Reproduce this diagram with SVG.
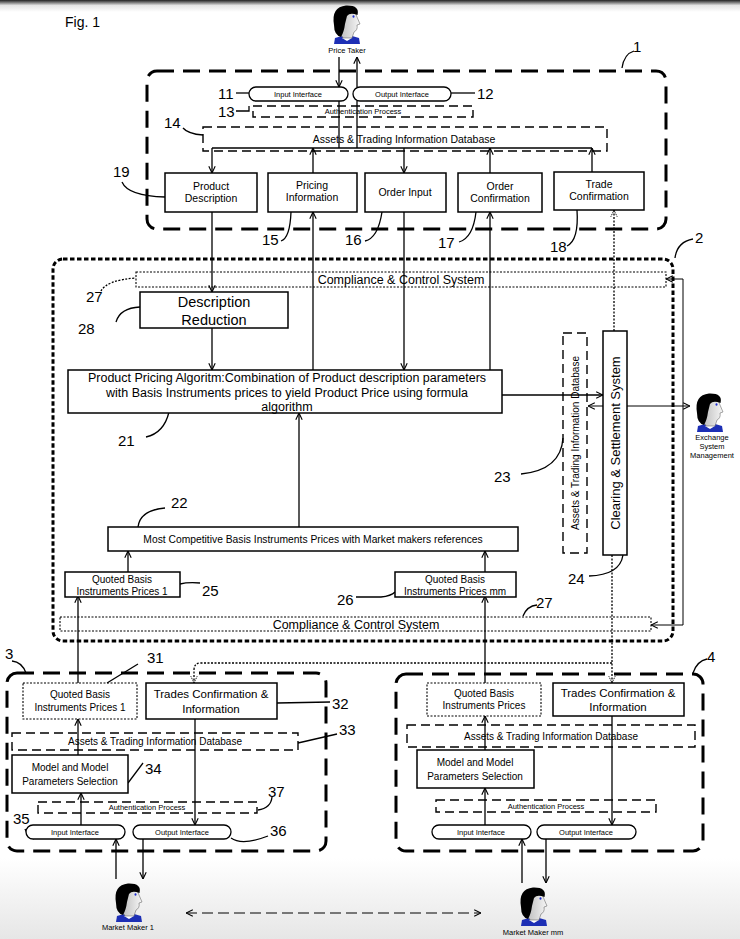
<svg xmlns="http://www.w3.org/2000/svg" width="740" height="939" viewBox="0 0 740 939">
<defs>
<linearGradient id="gt" x1="0" y1="0" x2="0" y2="1"><stop offset="0" stop-color="#222"/><stop offset="0.2" stop-color="#777"/><stop offset="0.45" stop-color="#e4e4e4"/><stop offset="1" stop-color="#fff"/></linearGradient>
<linearGradient id="gb" x1="0" y1="0" x2="0" y2="1"><stop offset="0" stop-color="#fff"/><stop offset="1" stop-color="#e6e6e6"/></linearGradient>
<linearGradient id="skin" x1="0" y1="0" x2="1" y2="0"><stop offset="0" stop-color="#bdbdbd"/><stop offset="1" stop-color="#f6f6f6"/></linearGradient>
<marker id="a" viewBox="0 0 10 10" refX="9.5" refY="5" markerWidth="8" markerHeight="8" orient="auto-start-reverse" markerUnits="userSpaceOnUse"><path d="M1,1 L9.5,5 L1,9" fill="none" stroke="#000" stroke-width="1.4"/></marker>
<marker id="ad" viewBox="0 0 10 10" refX="9.5" refY="5" markerWidth="8" markerHeight="8" orient="auto-start-reverse" markerUnits="userSpaceOnUse"><path d="M1,1 L9.5,5 L1,9" fill="none" stroke="#000" stroke-width="1.1" stroke-dasharray="1.5 1"/></marker>
<symbol id="person" viewBox="0 0 34 40">
<path d="M5,34 Q17,29 29,34 L30,40 L4,40 Z" fill="#1d2fb5"/>
<path d="M12,34 L17,37 L22,34 Z" fill="#fff"/>
<path d="M12,7 Q25,3 27,13 L30,20 L27,21 Q28,26 24,28 L22,34 L13,34 Q9,29 10,18 Z" fill="url(#skin)" stroke="#555" stroke-width="0.5"/>
<path d="M4,21 Q1,3 16,1.5 Q30,1 27.5,11 Q20,8 17,12 L15,20 Q14,28 11,33 Q4,31 4,21 Z" fill="#000"/>
<ellipse cx="23.5" cy="12.5" rx="1" ry="1.3" fill="#2030d0"/>
</symbol>
<style>
text{font-family:"Liberation Sans",Arial,sans-serif;fill:#000}
.box{fill:#fff;stroke:#000;stroke-width:1.5}
.dash{fill:none;stroke:#000;stroke-width:1.4;stroke-dasharray:9 5}
.dot{fill:none;stroke:#000;stroke-width:1.1;stroke-dasharray:2 1.5}
.big{fill:none;stroke:#000;stroke-width:3;stroke-dasharray:17 9}
.bigdot{fill:none;stroke:#000;stroke-width:3;stroke-dasharray:4.5 2.5}
.pill{fill:#fff;stroke:#000;stroke-width:1.3}
.ln{fill:none;stroke:#000;stroke-width:1.3}
.thin{fill:none;stroke:#000;stroke-width:1}
.lnd{fill:none;stroke:#000;stroke-width:1.3;stroke-dasharray:2 1.5}
.num{font-size:15px}
.t{font-size:10.5px;text-anchor:middle}
.s{font-size:7.5px;text-anchor:middle}
.m{font-size:10px;text-anchor:middle}
.l{font-size:12.5px;text-anchor:middle}
.tc{font-size:11.5px;text-anchor:middle}
</style>
</defs>
<rect x="0" y="0" width="740" height="939" fill="#fff"/>
<rect x="0" y="0" width="740" height="12" fill="url(#gt)"/>
<rect x="0" y="858" width="740" height="81" fill="url(#gb)"/>
<text x="65" y="27" font-size="14">Fig. 1</text>

<g id="containers">
<rect x="147" y="71" width="519" height="158" rx="10" class="big"/>
<rect x="53" y="259" width="620" height="382" rx="10" class="bigdot"/>
<rect x="7" y="673" width="319" height="178" rx="10" class="big"/>
<rect x="396" y="674" width="307" height="177" rx="10" class="big"/>
</g>

<g id="price-taker"><use href="#person" x="330" y="4" width="34" height="40"/><text x="347" y="53" class="s">Price Taker</text></g>
<g id="exchange-mgmt"><use href="#person" x="693" y="392" width="34" height="40"/><text x="712" y="440" class="s">Exchange</text><text x="712" y="449" class="s">System</text><text x="712" y="458" class="s">Management</text></g>
<g id="market-maker-1"><use href="#person" x="112" y="882" width="34" height="40"/><text x="128" y="930" class="s">Market Maker 1</text></g>
<g id="market-maker-mm"><use href="#person" x="517" y="886" width="34" height="40"/><text x="533" y="935" class="s">Market Maker mm</text></g>

<g id="connectors">
<line x1="339" y1="57" x2="339" y2="87" class="ln" marker-end="url(#a)"/>
<line x1="357" y1="87" x2="357" y2="57" class="ln" marker-end="url(#a)"/>
<line x1="339" y1="101" x2="339" y2="148" class="ln"/>
<line x1="357" y1="148" x2="357" y2="101" class="ln"/>
<line x1="212" y1="148" x2="592" y2="148" class="ln"/>
<line x1="212" y1="148" x2="212" y2="173" class="ln" marker-end="url(#a)"/>
<line x1="313" y1="173" x2="313" y2="148" class="ln" marker-end="url(#a)"/>
<line x1="404" y1="148" x2="404" y2="173" class="ln" marker-end="url(#a)"/>
<line x1="490" y1="173" x2="490" y2="148" class="ln" marker-end="url(#a)"/>
<line x1="592" y1="172" x2="592" y2="148" class="ln" marker-end="url(#a)"/>
<line x1="212" y1="212" x2="212" y2="292" class="ln" marker-end="url(#a)"/>
<line x1="313" y1="370" x2="313" y2="212" class="ln" marker-end="url(#a)"/>
<line x1="404" y1="212" x2="404" y2="370" class="ln" marker-end="url(#a)"/>
<line x1="490" y1="370" x2="490" y2="212" class="ln" marker-end="url(#a)"/>
<line x1="614" y1="331" x2="614" y2="210" class="lnd" marker-end="url(#ad)"/>
<line x1="212" y1="328" x2="212" y2="370" class="ln" marker-end="url(#a)"/>
<line x1="502" y1="395" x2="603" y2="395" class="ln" marker-end="url(#a)"/>
<line x1="588" y1="406" x2="690" y2="406" class="thin" marker-start="url(#a)" marker-end="url(#a)"/>
<path d="M666,279 H683 V625 H651" class="thin" marker-start="url(#a)" marker-end="url(#a)"/>
<line x1="299" y1="527" x2="299" y2="413" class="ln" marker-end="url(#a)"/>
<line x1="128" y1="572" x2="128" y2="551" class="ln" marker-end="url(#a)"/>
<line x1="485" y1="572" x2="485" y2="551" class="ln" marker-end="url(#a)"/>
<line x1="78" y1="683" x2="78" y2="596" class="ln" marker-end="url(#a)"/>
<line x1="485" y1="683" x2="485" y2="596" class="ln" marker-end="url(#a)"/>
<line x1="612" y1="555" x2="612" y2="683" class="lnd" marker-end="url(#ad)"/>
<path d="M612,663 H201 Q194,663 194,670 V683" class="lnd" marker-end="url(#ad)"/>
<line x1="78" y1="755" x2="78" y2="719" class="ln" marker-end="url(#a)"/>
<line x1="81" y1="825" x2="81" y2="793" class="ln" marker-end="url(#a)"/>
<line x1="195" y1="719" x2="195" y2="825" class="ln" marker-end="url(#a)"/>
<line x1="116" y1="879" x2="116" y2="839" class="ln" marker-end="url(#a)"/>
<line x1="143" y1="839" x2="143" y2="879" class="ln" marker-end="url(#a)"/>
<line x1="485" y1="750" x2="485" y2="716" class="ln" marker-end="url(#a)"/>
<line x1="485" y1="825" x2="485" y2="788" class="ln" marker-end="url(#a)"/>
<line x1="612" y1="716" x2="612" y2="825" class="ln" marker-end="url(#a)"/>
<line x1="522" y1="883" x2="522" y2="839" class="ln" marker-end="url(#a)"/>
<line x1="546" y1="839" x2="546" y2="883" class="ln" marker-end="url(#a)"/>
<line x1="186" y1="913" x2="481" y2="913" class="thin" stroke-dasharray="11 5" marker-start="url(#a)" marker-end="url(#a)"/>
</g>

<g id="leaders">
<path d="M622,68 Q624,54 634,51" class="ln"/>
<line x1="236" y1="93" x2="249" y2="93" class="ln"/>
<line x1="451" y1="93" x2="475" y2="93" class="ln"/>
<path d="M236,111 H249 V106" class="ln"/>
<path d="M183,128 Q188,134 203,135" class="ln"/>
<path d="M122,182 Q128,196 165,197" class="ln"/>
<path d="M281,241 Q290,238 291,212" class="ln"/>
<path d="M365,241 Q378,238 382,212" class="ln"/>
<path d="M459,242 Q473,238 476,212" class="ln"/>
<path d="M567,246 Q579,240 577,210" class="ln"/>
<path d="M675,258 Q677,242 693,239" class="ln"/>
<path d="M101,291 Q107,280 136,278" class="lnd"/>
<path d="M116,322 Q120,308 140,307" class="ln"/>
<path d="M146,437 Q164,433 169,412" class="ln"/>
<path d="M521,474 Q561,470 563,438" class="ln"/>
<path d="M165,508 Q140,510 138,527" class="ln"/>
<path d="M589,576 Q620,575 623,555" class="ln"/>
<path d="M180,584 Q188,582 200,583" class="ln"/>
<path d="M356,597 L381,597 Q391,596 395,592" class="ln"/>
<path d="M523,616 Q527,606 537,605" class="ln"/>
<path d="M12,661 Q22,662 26,673" class="ln"/>
<line x1="107" y1="683" x2="138" y2="664" class="ln"/>
<line x1="277" y1="703" x2="330" y2="702" class="ln"/>
<line x1="298" y1="743" x2="337" y2="734" class="ln"/>
<line x1="128" y1="783" x2="143" y2="763" class="ln"/>
<path d="M258,810 Q271,808 272,797" class="ln"/>
<path d="M25,829 Q28,836 34,839" class="ln"/>
<path d="M231,838 Q242,846 268,836" class="ln"/>
<path d="M693,673 Q697,661 707,659" class="ln"/>
</g>

<g id="labels" class="num">
<text x="633" y="52">1</text>
<text x="218" y="99">11</text>
<text x="477" y="99">12</text>
<text x="218" y="117">13</text>
<text x="164" y="128">14</text>
<text x="113" y="177">19</text>
<text x="262" y="245">15</text>
<text x="345" y="245">16</text>
<text x="438" y="248">17</text>
<text x="550" y="252">18</text>
<text x="695" y="243">2</text>
<text x="86" y="302">27</text>
<text x="78" y="334">28</text>
<text x="118" y="446">21</text>
<text x="494" y="482">23</text>
<text x="171" y="508">22</text>
<text x="568" y="584">24</text>
<text x="202" y="596">25</text>
<text x="337" y="605">26</text>
<text x="536" y="608">27</text>
<text x="5" y="659">3</text>
<text x="147" y="663">31</text>
<text x="332" y="709">32</text>
<text x="339" y="735">33</text>
<text x="145" y="774">34</text>
<text x="268" y="797">37</text>
<text x="13" y="824">35</text>
<text x="270" y="836">36</text>
<text x="707" y="662">4</text>
</g>

<g id="n11-input"><rect x="249" y="87" width="99" height="14" rx="7" class="pill"/><text x="298" y="96.5" class="s">Input Interface</text></g>
<g id="n12-output"><rect x="353" y="87" width="98" height="14" rx="7" class="pill"/><text x="402" y="96.5" class="s">Output Interface</text></g>
<g id="n13-auth"><rect x="253" y="106" width="220" height="11" class="dash"/><text x="363" y="114" class="s">Authentication Process</text></g>
<g id="n14-db"><rect x="203" y="127" width="404" height="24" class="dash"/><text x="404" y="143" font-size="10.5" text-anchor="middle">Assets &amp; Trading Information  Database</text></g>
<g id="n19-product-description"><rect x="165" y="173" width="92" height="39" class="box"/><text x="211" y="190" class="t">Product</text><text x="211" y="202" class="t">Description</text></g>
<g id="n15-pricing-information"><rect x="268" y="173" width="89" height="39" class="box"/><text x="312" y="189" class="t">Pricing</text><text x="312" y="201" class="t">Information</text></g>
<g id="n16-order-input"><rect x="365" y="173" width="81" height="39" class="box"/><text x="405" y="196" class="t">Order Input</text></g>
<g id="n17-order-confirmation"><rect x="458" y="173" width="84" height="39" class="box"/><text x="500" y="190" class="t">Order</text><text x="500" y="202" class="t">Confirmation</text></g>
<g id="n18-trade-confirmation"><rect x="554" y="172" width="90" height="38" class="box"/><text x="599" y="188" class="t">Trade</text><text x="599" y="200" class="t">Confirmation</text></g>

<g id="n27-compliance-top"><rect x="136" y="272" width="530" height="15" class="dot"/><text x="401" y="284" class="l">Compliance &amp; Control System</text></g>
<g id="n28-description-reduction"><rect x="140" y="292" width="148" height="36" class="box"/><text x="214" y="307" font-size="14.5" text-anchor="middle">Description</text><text x="214" y="325" font-size="14.5" text-anchor="middle">Reduction</text></g>
<g id="n21-product-pricing"><rect x="68" y="370" width="434" height="43" class="box"/><text x="287" y="382" class="l">Product Pricing Algoritm:Combination of Product description parameters</text><text x="287" y="397" class="l">with Basis Instruments prices to yield Product Price using formula</text><text x="287" y="411" class="l">algorithm</text></g>
<g id="n23-db-vertical"><rect x="563" y="333" width="24" height="220" class="dash"/><text transform="translate(579,443) rotate(-90)" font-size="10" text-anchor="middle">Assets &amp; Trading Information  Database</text></g>
<g id="n24-clearing"><rect x="603" y="331" width="24" height="224" class="box"/><text transform="translate(620,443) rotate(-90)" font-size="13" text-anchor="middle">Clearing &amp; Settlement System</text></g>
<g id="n22-most-competitive"><rect x="108" y="527" width="410" height="24" class="box"/><text x="313" y="543" font-size="10.3" text-anchor="middle">Most Competitive Basis Instruments Prices with Market makers references</text></g>
<g id="n25-quoted-1"><rect x="65" y="572" width="115" height="25" class="box"/><text x="122" y="583" class="m">Quoted Basis</text><text x="122" y="595" class="m">Instruments Prices 1</text></g>
<g id="n26-quoted-mm"><rect x="395" y="572" width="121" height="25" class="box"/><text x="455" y="583" class="m">Quoted Basis</text><text x="455" y="595" class="m">Instruments Prices mm</text></g>
<g id="n27-compliance-bottom"><rect x="60" y="617" width="591" height="14" class="dot"/><text x="356" y="629" class="l">Compliance &amp; Control System</text></g>

<g id="n31-quoted-mm1"><rect x="23" y="683" width="114" height="36" class="dot" fill="#fff"/><text x="80" y="698" font-size="10" text-anchor="middle">Quoted Basis</text><text x="80" y="711" font-size="10" text-anchor="middle">Instruments Prices 1</text></g>
<g id="n32-trades-conf-mm1"><rect x="146" y="683" width="131" height="36" class="box"/><text x="211" y="698" class="tc">Trades Confirmation &amp;</text><text x="211" y="713" class="tc">Information</text></g>
<g id="n33-db-mm1"><rect x="12" y="733" width="286" height="17" class="dash"/><text x="155" y="745" font-size="10" text-anchor="middle">Assets &amp; Trading Information  Database</text></g>
<g id="n34-model-mm1"><rect x="12" y="755" width="116" height="38" class="box"/><text x="70" y="771" font-size="10" text-anchor="middle">Model and Model</text><text x="70" y="785" font-size="10" text-anchor="middle">Parameters Selection</text></g>
<g id="n37-auth-mm1"><rect x="38" y="802" width="219" height="11" class="dash"/><text x="147" y="810" class="s">Authentication Process</text></g>
<g id="n35-input-mm1"><rect x="26" y="825" width="99" height="14" rx="7" class="pill"/><text x="75" y="834.5" class="s">Input Interface</text></g>
<g id="n36-output-mm1"><rect x="133" y="825" width="98" height="14" rx="7" class="pill"/><text x="182" y="834.5" class="s">Output Interface</text></g>

<g id="n4-quoted-mmm"><rect x="427" y="683" width="114" height="33" class="dot" fill="#fff"/><text x="484" y="697" font-size="10" text-anchor="middle">Quoted Basis</text><text x="484" y="709" font-size="10" text-anchor="middle">Instruments Prices</text></g>
<g id="n4-trades-conf"><rect x="553" y="683" width="131" height="33" class="box"/><text x="618" y="697" class="tc">Trades Confirmation &amp;</text><text x="618" y="711" class="tc">Information</text></g>
<g id="n4-db"><rect x="407" y="725" width="288" height="22" class="dash"/><text x="551" y="740" font-size="10" text-anchor="middle">Assets &amp; Trading Information  Database</text></g>
<g id="n4-model"><rect x="417" y="750" width="117" height="38" class="box"/><text x="475" y="766" font-size="10" text-anchor="middle">Model and Model</text><text x="475" y="780" font-size="10" text-anchor="middle">Parameters Selection</text></g>
<g id="n4-auth"><rect x="436" y="800" width="220" height="12" class="dash"/><text x="546" y="808.5" class="s">Authentication Process</text></g>
<g id="n4-input"><rect x="432" y="825" width="99" height="14" rx="7" class="pill"/><text x="481" y="834.5" class="s">Input Interface</text></g>
<g id="n4-output"><rect x="537" y="825" width="99" height="14" rx="7" class="pill"/><text x="586" y="834.5" class="s">Output Interface</text></g>
</svg>
